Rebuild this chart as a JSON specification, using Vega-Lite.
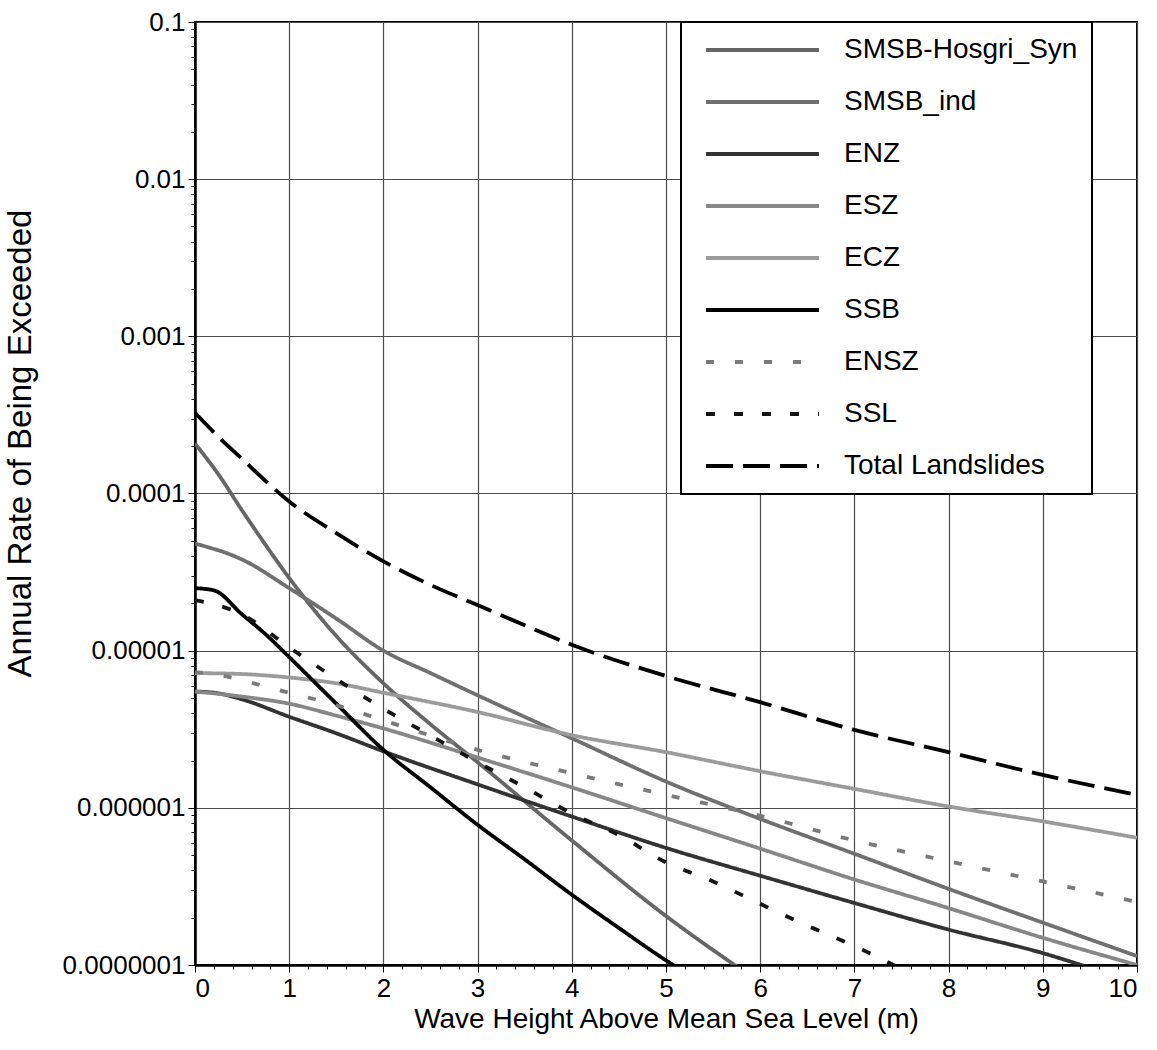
{
  "$schema": "https://vega.github.io/schema/vega-lite/v6.json",
  "width": 942,
  "height": 943,
  "autosize": {"type": "none"},
  "padding": {"left": 195, "top": 22, "right": 20, "bottom": 85},
  "background": "white",
  "config": {
    "font": "Liberation Sans",
    "view": {"stroke": "#000", "strokeWidth": 2},
    "axis": {
      "domainColor": "#000", "domainWidth": 2.5,
      "gridColor": "#4d4d4d", "gridWidth": 1.2,
      "tickColor": "#000", "tickWidth": 1,
      "labelFont": "Liberation Sans", "labelFontSize": 26, "labelColor": "#000",
      "titleFont": "Liberation Sans", "titleFontWeight": "normal", "titleColor": "#000",
      "labelOverlap": false
    },
    "legend": {
      "orient": "none", "legendX": 486, "legendY": 0,
      "title": null, "padding": 14, "rowPadding": 24,
      "labelFont": "Liberation Sans", "labelFontSize": 28, "labelColor": "#000", "labelOffset": 121,
      "labelLimit": 500,
      "symbolType": "M-0.3,0H11", "symbolSize": 400, "symbolStrokeWidth": 4,
      "strokeColor": "#000", "strokeWidth": 2, "fillColor": "white", "cornerRadius": 0
    }
  },
  "data": {"values": [
    {"series": "Total Landslides", "x": 0, "y": 3.26e-4},
    {"series": "Total Landslides", "x": 0.25, "y": 2.29e-4},
    {"series": "Total Landslides", "x": 0.5, "y": 1.66e-4},
    {"series": "Total Landslides", "x": 0.75, "y": 1.2e-4},
    {"series": "Total Landslides", "x": 1, "y": 8.9e-5},
    {"series": "Total Landslides", "x": 1.5, "y": 5.6e-5},
    {"series": "Total Landslides", "x": 2, "y": 3.7e-5},
    {"series": "Total Landslides", "x": 2.5, "y": 2.62e-5},
    {"series": "Total Landslides", "x": 3, "y": 1.95e-5},
    {"series": "Total Landslides", "x": 3.5, "y": 1.45e-5},
    {"series": "Total Landslides", "x": 4, "y": 1.09e-5},
    {"series": "Total Landslides", "x": 5, "y": 6.9e-6},
    {"series": "Total Landslides", "x": 6, "y": 4.7e-6},
    {"series": "Total Landslides", "x": 7, "y": 3.13e-6},
    {"series": "Total Landslides", "x": 8, "y": 2.26e-6},
    {"series": "Total Landslides", "x": 9, "y": 1.62e-6},
    {"series": "Total Landslides", "x": 10, "y": 1.21e-6},

    {"series": "SMSB-Hosgri_Syn", "x": 0, "y": 2.08e-4},
    {"series": "SMSB-Hosgri_Syn", "x": 0.25, "y": 1.32e-4},
    {"series": "SMSB-Hosgri_Syn", "x": 0.5, "y": 7.8e-5},
    {"series": "SMSB-Hosgri_Syn", "x": 0.75, "y": 4.7e-5},
    {"series": "SMSB-Hosgri_Syn", "x": 1, "y": 2.9e-5},
    {"series": "SMSB-Hosgri_Syn", "x": 1.5, "y": 1.24e-5},
    {"series": "SMSB-Hosgri_Syn", "x": 2, "y": 6.2e-6},
    {"series": "SMSB-Hosgri_Syn", "x": 2.5, "y": 3.4e-6},
    {"series": "SMSB-Hosgri_Syn", "x": 3, "y": 1.95e-6},
    {"series": "SMSB-Hosgri_Syn", "x": 4, "y": 6.2e-7},
    {"series": "SMSB-Hosgri_Syn", "x": 5, "y": 2.05e-7},
    {"series": "SMSB-Hosgri_Syn", "x": 5.85, "y": 8.9e-8},

    {"series": "SMSB_ind", "x": 0, "y": 4.8e-5},
    {"series": "SMSB_ind", "x": 0.5, "y": 3.8e-5},
    {"series": "SMSB_ind", "x": 1, "y": 2.5e-5},
    {"series": "SMSB_ind", "x": 1.5, "y": 1.6e-5},
    {"series": "SMSB_ind", "x": 2, "y": 1.0e-5},
    {"series": "SMSB_ind", "x": 2.5, "y": 7.2e-6},
    {"series": "SMSB_ind", "x": 3, "y": 5.2e-6},
    {"series": "SMSB_ind", "x": 4, "y": 2.77e-6},
    {"series": "SMSB_ind", "x": 5, "y": 1.47e-6},
    {"series": "SMSB_ind", "x": 6, "y": 8.5e-7},
    {"series": "SMSB_ind", "x": 7, "y": 5.1e-7},
    {"series": "SMSB_ind", "x": 8, "y": 3.05e-7},
    {"series": "SMSB_ind", "x": 9, "y": 1.86e-7},
    {"series": "SMSB_ind", "x": 10, "y": 1.14e-7},

    {"series": "ENZ", "x": 0, "y": 5.5e-6},
    {"series": "ENZ", "x": 0.25, "y": 5.35e-6},
    {"series": "ENZ", "x": 0.5, "y": 4.9e-6},
    {"series": "ENZ", "x": 1, "y": 3.8e-6},
    {"series": "ENZ", "x": 1.5, "y": 2.98e-6},
    {"series": "ENZ", "x": 2, "y": 2.29e-6},
    {"series": "ENZ", "x": 3, "y": 1.41e-6},
    {"series": "ENZ", "x": 4, "y": 8.8e-7},
    {"series": "ENZ", "x": 5, "y": 5.56e-7},
    {"series": "ENZ", "x": 6, "y": 3.7e-7},
    {"series": "ENZ", "x": 7, "y": 2.48e-7},
    {"series": "ENZ", "x": 8, "y": 1.68e-7},
    {"series": "ENZ", "x": 9, "y": 1.19e-7},
    {"series": "ENZ", "x": 9.5, "y": 9.6e-8},

    {"series": "ESZ", "x": 0, "y": 5.5e-6},
    {"series": "ESZ", "x": 0.5, "y": 5.1e-6},
    {"series": "ESZ", "x": 1, "y": 4.6e-6},
    {"series": "ESZ", "x": 1.5, "y": 3.86e-6},
    {"series": "ESZ", "x": 2, "y": 3.2e-6},
    {"series": "ESZ", "x": 3, "y": 2.09e-6},
    {"series": "ESZ", "x": 4, "y": 1.35e-6},
    {"series": "ESZ", "x": 5, "y": 8.6e-7},
    {"series": "ESZ", "x": 6, "y": 5.5e-7},
    {"series": "ESZ", "x": 7, "y": 3.5e-7},
    {"series": "ESZ", "x": 8, "y": 2.3e-7},
    {"series": "ESZ", "x": 9, "y": 1.49e-7},
    {"series": "ESZ", "x": 10, "y": 1.0e-7},

    {"series": "ECZ", "x": 0, "y": 7.2e-6},
    {"series": "ECZ", "x": 0.5, "y": 7.1e-6},
    {"series": "ECZ", "x": 1, "y": 6.75e-6},
    {"series": "ECZ", "x": 1.5, "y": 6.2e-6},
    {"series": "ECZ", "x": 2, "y": 5.4e-6},
    {"series": "ECZ", "x": 3, "y": 4.07e-6},
    {"series": "ECZ", "x": 4, "y": 2.9e-6},
    {"series": "ECZ", "x": 5, "y": 2.26e-6},
    {"series": "ECZ", "x": 6, "y": 1.71e-6},
    {"series": "ECZ", "x": 7, "y": 1.32e-6},
    {"series": "ECZ", "x": 8, "y": 1.02e-6},
    {"series": "ECZ", "x": 9, "y": 8.2e-7},
    {"series": "ECZ", "x": 10, "y": 6.45e-7},

    {"series": "SSB", "x": 0, "y": 2.5e-5},
    {"series": "SSB", "x": 0.2, "y": 2.42e-5},
    {"series": "SSB", "x": 0.5, "y": 1.7e-5},
    {"series": "SSB", "x": 0.75, "y": 1.27e-5},
    {"series": "SSB", "x": 1, "y": 9.1e-6},
    {"series": "SSB", "x": 1.5, "y": 4.6e-6},
    {"series": "SSB", "x": 2, "y": 2.34e-6},
    {"series": "SSB", "x": 2.5, "y": 1.35e-6},
    {"series": "SSB", "x": 3, "y": 7.8e-7},
    {"series": "SSB", "x": 3.5, "y": 4.7e-7},
    {"series": "SSB", "x": 4, "y": 2.8e-7},
    {"series": "SSB", "x": 4.5, "y": 1.72e-7},
    {"series": "SSB", "x": 5, "y": 1.07e-7},
    {"series": "SSB", "x": 5.4, "y": 7.6e-8},

    {"series": "ENSZ", "x": 0, "y": 7.3e-6},
    {"series": "ENSZ", "x": 0.25, "y": 7.0e-6},
    {"series": "ENSZ", "x": 0.5, "y": 6.5e-6},
    {"series": "ENSZ", "x": 0.75, "y": 5.9e-6},
    {"series": "ENSZ", "x": 1, "y": 5.4e-6},
    {"series": "ENSZ", "x": 1.5, "y": 4.5e-6},
    {"series": "ENSZ", "x": 2, "y": 3.6e-6},
    {"series": "ENSZ", "x": 3, "y": 2.34e-6},
    {"series": "ENSZ", "x": 4, "y": 1.66e-6},
    {"series": "ENSZ", "x": 5, "y": 1.21e-6},
    {"series": "ENSZ", "x": 6, "y": 8.9e-7},
    {"series": "ENSZ", "x": 7, "y": 6.2e-7},
    {"series": "ENSZ", "x": 8, "y": 4.57e-7},
    {"series": "ENSZ", "x": 9, "y": 3.4e-7},
    {"series": "ENSZ", "x": 10, "y": 2.52e-7},

    {"series": "SSL", "x": 0, "y": 2.1e-5},
    {"series": "SSL", "x": 0.5, "y": 1.7e-5},
    {"series": "SSL", "x": 1, "y": 1.05e-5},
    {"series": "SSL", "x": 1.5, "y": 6.6e-6},
    {"series": "SSL", "x": 2, "y": 4.27e-6},
    {"series": "SSL", "x": 2.5, "y": 2.88e-6},
    {"series": "SSL", "x": 3, "y": 1.95e-6},
    {"series": "SSL", "x": 3.5, "y": 1.35e-6},
    {"series": "SSL", "x": 4, "y": 9.2e-7},
    {"series": "SSL", "x": 4.5, "y": 6.7e-7},
    {"series": "SSL", "x": 5, "y": 4.5e-7},
    {"series": "SSL", "x": 5.5, "y": 3.4e-7},
    {"series": "SSL", "x": 6, "y": 2.45e-7},
    {"series": "SSL", "x": 6.5, "y": 1.78e-7},
    {"series": "SSL", "x": 7, "y": 1.32e-7},
    {"series": "SSL", "x": 7.6, "y": 8.8e-8}
  ]},
  "mark": {"type": "line", "interpolate": "monotone", "clip": true, "strokeCap": "butt"},
  "encoding": {
    "x": {
      "field": "x", "type": "quantitative",
      "scale": {"domain": [0, 10], "nice": false, "zero": false},
      "axis": {
        "title": "Wave Height Above Mean Sea Level (m)",
        "titleFontSize": 28, "titlePadding": 4, "labelPadding": 3,
        "values": [0,0.2,0.4,0.6,0.8,1,1.2,1.4,1.6,1.8,2,2.2,2.4,2.6,2.8,3,3.2,3.4,3.6,3.8,4,4.2,4.4,4.6,4.8,5,5.2,5.4,5.6,5.8,6,6.2,6.4,6.6,6.8,7,7.2,7.4,7.6,7.8,8,8.2,8.4,8.6,8.8,9,9.2,9.4,9.6,9.8,10],
        "labelExpr": "datum.value == round(datum.value) ? format(datum.value, 'd') : ''",
        "tickSize": {"condition": {"test": "datum.value == round(datum.value)", "value": 7}, "value": 4},
        "gridOpacity": {"condition": {"test": "datum.value == round(datum.value)", "value": 1}, "value": 0}
      }
    },
    "y": {
      "field": "y", "type": "quantitative",
      "scale": {"type": "log", "domain": [1e-7, 0.1], "nice": false},
      "axis": {
        "title": "Annual Rate of Being Exceeded",
        "titleFontSize": 33, "titlePadding": 25, "titleY": 421, "labelPadding": 3,
        "values": [1e-7,2e-7,3e-7,4e-7,5e-7,6e-7,7e-7,8e-7,9e-7,1e-6,2e-6,3e-6,4e-6,5e-6,6e-6,7e-6,8e-6,9e-6,1e-5,2e-5,3e-5,4e-5,5e-5,6e-5,7e-5,8e-5,9e-5,1e-4,2e-4,3e-4,4e-4,5e-4,6e-4,7e-4,8e-4,9e-4,0.001,0.002,0.003,0.004,0.005,0.006,0.007,0.008,0.009,0.01,0.02,0.03,0.04,0.05,0.06,0.07,0.08,0.09,0.1],
        "labelExpr": "abs(log(datum.value)/LN10 - round(log(datum.value)/LN10)) < 0.001 ? format(datum.value, '.7~f') : ''",
        "tickSize": {"condition": {"test": "abs(log(datum.value)/LN10 - round(log(datum.value)/LN10)) < 0.001", "value": 7}, "value": 4},
        "gridOpacity": {"condition": {"test": "abs(log(datum.value)/LN10 - round(log(datum.value)/LN10)) < 0.001", "value": 1}, "value": 0}
      }
    },
    "color": {
      "field": "series", "type": "nominal",
      "scale": {
        "domain": ["SMSB-Hosgri_Syn", "SMSB_ind", "ENZ", "ESZ", "ECZ", "SSB", "ENSZ", "SSL", "Total Landslides"],
        "range": ["#666666", "#707070", "#333333", "#878787", "#9b9b9b", "#000000", "#7a7a7a", "#151515", "#000000"]
      }
    },
    "strokeDash": {
      "field": "series", "type": "nominal",
      "scale": {
        "domain": ["SMSB-Hosgri_Syn", "SMSB_ind", "ENZ", "ESZ", "ECZ", "SSB", "ENSZ", "SSL", "Total Landslides"],
        "range": [[1, 0], [1, 0], [1, 0], [1, 0], [1, 0], [1, 0], [8, 21], [9, 19], [27, 10]]
      }
    },
    "strokeWidth": {
      "field": "series", "type": "nominal",
      "scale": {
        "domain": ["SMSB-Hosgri_Syn", "SMSB_ind", "ENZ", "ESZ", "ECZ", "SSB", "ENSZ", "SSL", "Total Landslides"],
        "range": [3.8, 3.8, 3.8, 3.8, 3.8, 4, 4, 4.5, 5]
      }
    }
  }
}
